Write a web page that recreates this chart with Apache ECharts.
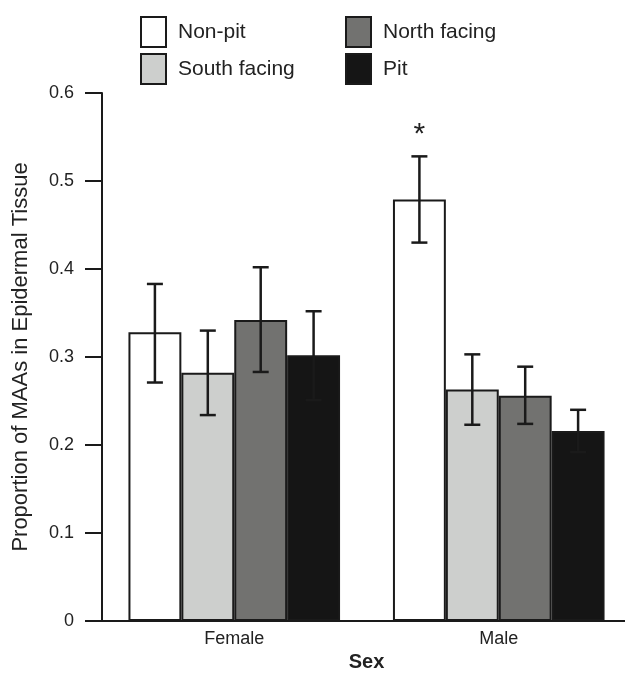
<!DOCTYPE html>
<html>
<head>
<meta charset="utf-8">
<script src="https://cdn.jsdelivr.net/npm/echarts@6/dist/echarts.min.js"></script>
<style>
  html, body { margin: 0; padding: 0; background: #fff; }
  #chart { width: 625px; height: 674px; }
</style>
</head>
<body>
<div id="chart"></div>
<script>
// categories and groups
const categories = ['Female', 'Male'];
const seriesNames = ['Non-pit', 'South facing', 'North facing', 'Pit'];

// mean proportions
const nonPit = [0.328, 0.479];
const southFacing = [0.282, 0.263];
const northFacing = [0.342, 0.256];
const pit = [0.302, 0.216];

// error bar ends (lower / upper)
const nonPitLow = [0.271, 0.430];
const nonPitHigh = [0.383, 0.528];
const southLow = [0.234, 0.223];
const southHigh = [0.330, 0.303];
const northLow = [0.283, 0.224];
const northHigh = [0.402, 0.289];
const pitLow = [0.251, 0.192];
const pitHigh = [0.352, 0.240];

// significance marks
const nonPitSig = ['', '*'];

const yTicks = [0, 0.1, 0.2, 0.3, 0.4, 0.5, 0.6];

const colors = ['#ffffff', '#cdcfcd', '#727270', '#151515'];
const lineColor = '#1a1a1a';
const catGap = 0.2;

const means = [nonPit, southFacing, northFacing, pit];
const lows = [nonPitLow, southLow, northLow, pitLow];
const highs = [nonPitHigh, southHigh, northHigh, pitHigh];
const sigs = [nonPitSig, ['', ''], ['', ''], ['', '']];

const chart = echarts.init(document.getElementById('chart'));

function errorRenderer(idx) {
  return (params, api) => {
    const cat = api.value(0);
    const lo = api.coord([cat, api.value(1)]);
    const hi = api.coord([cat, api.value(2)]);
    const band = api.size([1, 0])[0];
    const barW = band * (1 - catGap) / 4;
    const x = lo[0] + (idx - 1.5) * barW;
    const cap = 8;
    const style = { stroke: lineColor, lineWidth: 2.5 };
    const children = [
      { type: 'line', shape: { x1: x, y1: lo[1], x2: x, y2: hi[1] }, style },
      { type: 'line', shape: { x1: x - cap, y1: hi[1], x2: x + cap, y2: hi[1] }, style },
      { type: 'line', shape: { x1: x - cap, y1: lo[1], x2: x + cap, y2: lo[1] }, style }
    ];
    const mark = sigs[idx][params.dataIndex];
    if (mark) {
      children.push({
        type: 'text',
        style: {
          text: mark,
          x: x,
          y: hi[1] - 22,
          align: 'center',
          verticalAlign: 'middle',
          fontSize: 30,
          fontFamily: 'Liberation Sans, Arial, sans-serif',
          fill: '#222'
        }
      });
    }
    return { type: 'group', children };
  };
}

const barSeries = seriesNames.map((name, i) => ({
  name,
  type: 'bar',
  data: means[i],
  barGap: 0,
  barCategoryGap: catGap * 100 + '%',
  itemStyle: { color: colors[i], borderColor: lineColor, borderWidth: 2 },
  z: 2
}));

const errSeries = seriesNames.map((name, i) => ({
  type: 'custom',
  renderItem: errorRenderer(i),
  data: categories.map((c, k) => [k, lows[i][k], highs[i][k]]),
  z: 5,
  silent: true
}));

const legendBase = {
  orient: 'vertical',
  top: 16,
  padding: 0,
  itemWidth: 25,
  itemHeight: 30,
  itemGap: 5,
  icon: 'rect',
  selectedMode: false,
  textStyle: { fontSize: 21, color: '#222', padding: [0, 0, 0, 7] }
};

chart.setOption({
  animation: false,
  textStyle: { fontFamily: 'Liberation Sans, Arial, sans-serif' },
  legend: [
    Object.assign({}, legendBase, { left: 140, data: ['Non-pit', 'South facing'] }),
    Object.assign({}, legendBase, { left: 345, data: ['North facing', 'Pit'] })
  ],
  grid: { left: 102, right: -6, top: 93, bottom: 53, containLabel: false, outerBoundsMode: 'none' },
  xAxis: {
    type: 'category',
    data: categories,
    name: 'Sex',
    nameLocation: 'middle',
    nameGap: 31,
    nameTextStyle: { fontSize: 20, fontWeight: 'bold', color: '#222' },
    axisLine: { lineStyle: { color: lineColor, width: 2 } },
    axisTick: { show: false },
    axisLabel: { fontSize: 18, color: '#222', margin: 9 }
  },
  yAxis: {
    type: 'value',
    min: 0,
    max: 0.6,
    interval: 0.1,
    name: 'Proportion of MAAs in Epidermal Tissue',
    nameLocation: 'middle',
    nameGap: 70,
    nameTextStyle: { fontSize: 22, color: '#222' },
    axisLine: { show: true, lineStyle: { color: lineColor, width: 2 } },
    axisTick: { show: true, length: 17, lineStyle: { color: lineColor, width: 2 } },
    splitLine: { show: false },
    axisLabel: {
      fontSize: 18,
      color: '#222',
      margin: 28,
      formatter: (v) => {
        const t = yTicks.find((y) => Math.abs(y - v) < 1e-9);
        return t === 0 ? '0' : (t !== undefined ? t.toFixed(1) : '');
      }
    }
  },
  series: barSeries.concat(errSeries)
});
</script>
</body>
</html>
